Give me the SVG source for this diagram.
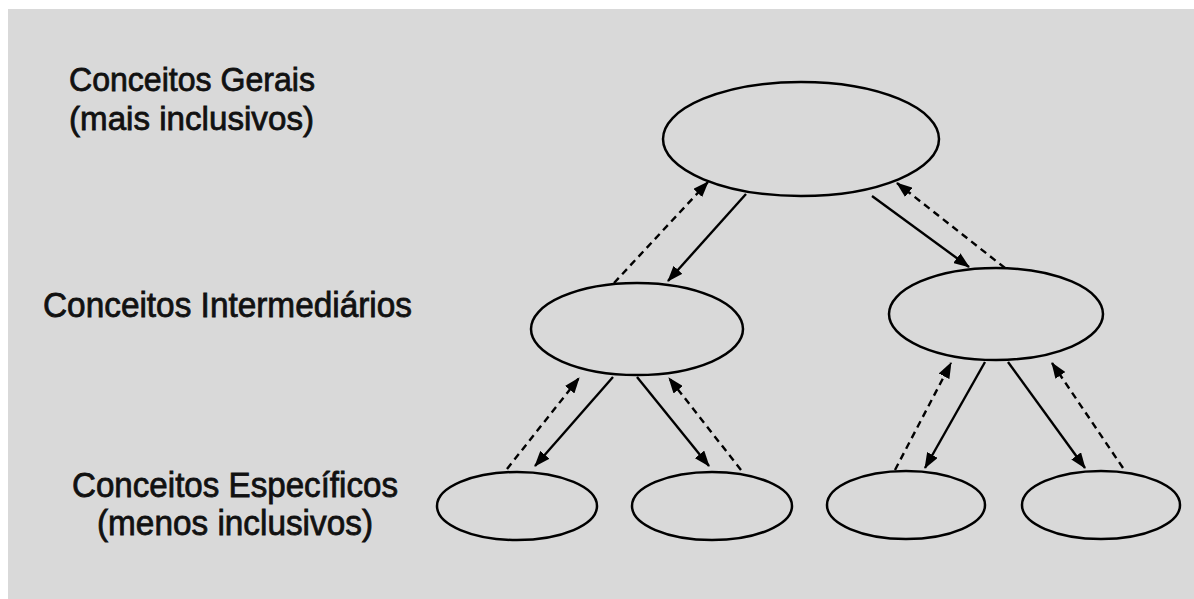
<svg xmlns="http://www.w3.org/2000/svg" width="1194" height="599" viewBox="0 0 1194 599">
<style>
.node ellipse{fill:none;stroke:#000;stroke-width:2.5}
.lbl{font-family:"Liberation Sans",Arial,sans-serif;fill:#111;stroke:#111;stroke-width:0.8}
.solid{stroke:#000;stroke-width:2.4;fill:none;marker-end:url(#ah)}
.dash{stroke:#000;stroke-width:2.4;fill:none;stroke-dasharray:7 5;marker-end:url(#ah)}
</style>
<defs>
<marker id="ah" viewBox="0 0 16 12" refX="15" refY="6" markerWidth="16" markerHeight="12" markerUnits="userSpaceOnUse" orient="auto">
<path d="M0,0 L16,6 L0,12 Z" fill="#000"/>
</marker>
</defs>
<rect x="0" y="0" width="1194" height="599" fill="#fff"/>
<rect x="8" y="9" width="1186" height="590" fill="#d9d9d9"/>
<g id="labels">
<text class="lbl" x="69" y="91" font-size="34" textLength="246" lengthAdjust="spacingAndGlyphs">Conceitos Gerais</text>
<text class="lbl" x="69" y="130" font-size="34" textLength="245" lengthAdjust="spacingAndGlyphs">(mais inclusivos)</text>
<text class="lbl" x="43" y="317" font-size="35" textLength="369" lengthAdjust="spacingAndGlyphs">Conceitos Intermediários</text>
<text class="lbl" x="72" y="497" font-size="35" textLength="326" lengthAdjust="spacingAndGlyphs">Conceitos Específicos</text>
<text class="lbl" x="97" y="535" font-size="35" textLength="276" lengthAdjust="spacingAndGlyphs">(menos inclusivos)</text>
</g>
<g id="n-top" class="node"><ellipse cx="801" cy="139" rx="138" ry="57"/></g>
<g id="n-midL" class="node"><ellipse cx="637" cy="329" rx="106" ry="46"/></g>
<g id="n-midR" class="node"><ellipse cx="996" cy="314" rx="107" ry="46"/></g>
<g id="n-b1" class="node"><ellipse cx="517" cy="506" rx="80" ry="34"/></g>
<g id="n-b2" class="node"><ellipse cx="712" cy="506" rx="80" ry="34"/></g>
<g id="n-b3" class="node"><ellipse cx="906" cy="505" rx="79" ry="34"/></g>
<g id="n-b4" class="node"><ellipse cx="1101" cy="505" rx="79" ry="34"/></g>
<g id="connectors">
<line class="solid" x1="746" y1="194" x2="668" y2="281"/>
<line class="dash" x1="614" y1="283" x2="708" y2="182"/>
<line class="solid" x1="872" y1="196" x2="969" y2="267"/>
<line class="dash" x1="1005" y1="268" x2="897" y2="183"/>
<line class="solid" x1="613" y1="377" x2="535" y2="466"/>
<line class="dash" x1="507" y1="469" x2="579" y2="378"/>
<line class="solid" x1="637" y1="377" x2="709" y2="466"/>
<line class="dash" x1="741" y1="470" x2="669" y2="378"/>
<line class="solid" x1="985" y1="362" x2="925" y2="468"/>
<line class="dash" x1="895" y1="470" x2="951" y2="363"/>
<line class="solid" x1="1008" y1="362" x2="1085" y2="468"/>
<line class="dash" x1="1123" y1="468" x2="1052" y2="363"/>
</g>
</svg>
